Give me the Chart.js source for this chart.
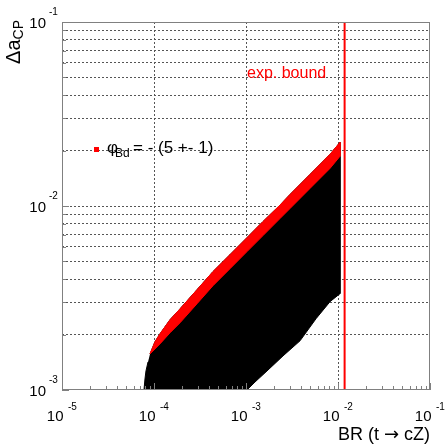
<!DOCTYPE html>
<html>
<head>
<meta charset="utf-8">
<script src="https://cdn.jsdelivr.net/npm/chart.js@4"></script>
<style>
  html, body { margin: 0; padding: 0; background: #fff; }
  #wrap { width: 447px; height: 446px; position: relative; }
</style>
</head>
<body>
<div id="wrap"><canvas id="myChart"></canvas></div>
<script>
const ctx = document.getElementById("myChart").getContext("2d");

// axis decades (powers of ten), also used as the exponent labels
const xDecades = [-5, -4, -3, -2, -1];
const yDecades = [-3, -2, -1];

// upper edge of the allowed region (top of the red band), left to right
const edgeX = [9.05e-5, 1.025e-4, 1.162e-4, 1.493e-4, 1.917e-4, 2.934e-4, 4.378e-4, 6.70e-4, 1.025e-3, 1.530e-3, 2.342e-3, 3.009e-3, 4.963e-3, 8.185e-3, 1.051e-2];
const edgeY = [1.571e-3, 1.83e-3, 2.02e-3, 2.41e-3, 2.76e-3, 3.51e-3, 4.40e-3, 5.44e-3, 6.73e-3, 8.23e-3, 1.012e-2, 1.155e-2, 1.485e-2, 1.908e-2, 2.218e-2];

// lower edge of the red band (phi_Bd = -(5 +- 1))
const bandX = [9.05e-5, 1.162e-4, 1.493e-4, 1.917e-4, 2.934e-4, 4.378e-4, 6.70e-4, 1.025e-3, 1.530e-3, 2.342e-3, 3.009e-3, 4.963e-3, 8.185e-3, 1.051e-2];
const bandY = [1.571e-3, 1.781e-3, 2.045e-3, 2.318e-3, 2.942e-3, 3.688e-3, 4.564e-3, 5.65e-3, 6.905e-3, 8.55e-3, 9.69e-3, 1.246e-2, 1.601e-2, 1.862e-2];

// rest of the black scan region, from the right end down and round to the left
const hullX = [1.051e-2, 8.185e-3, 5.768e-3, 3.864e-3, 2.525e-3, 1.692e-3, 1.253e-3, 1.025e-3, 7.78e-5, 7.98e-5, 8.18e-5, 8.61e-5];
const hullY = [3.34e-3, 3.02e-3, 2.44e-3, 1.85e-3, 1.532e-3, 1.269e-3, 1.105e-3, 1.0e-3, 1.0e-3, 1.148e-3, 1.269e-3, 1.421e-3];

// experimental bound on BR(t -> cZ)
const boundBR = 0.0118;

const FONT = "'Liberation Sans', Arial, Helvetica, sans-serif";

const pts = (xs, ys) => xs.map((v, i) => ({ x: v, y: ys[i] }));
const blackRegion = [...pts(edgeX, edgeY), ...pts(hullX, hullY)];
const redBand = [...pts(edgeX, edgeY), ...pts(bandX, bandY).reverse()];

function logTicks(decades) {
  let out = [];
  decades.forEach((d, i) => {
    if (i === decades.length - 1) {
      out.push({ value: Math.pow(10, d), major: true });
      return;
    }
    for (let m = 1; m <= 9; m++) {
      out.push({ value: m * Math.pow(10, d), major: m === 1 });
    }
  });
  return out;
}

const inside = (v, lo, hi) => v > lo * 1.0001 && v < hi * 0.9999;

// frame, inward ticks, 10^n labels, titles, legend
const decorations = {
  id: "decorations",
  afterDraw(chart) {
    const c = chart.ctx;
    const a = chart.chartArea;
    const xs = chart.scales.x, ys = chart.scales.y;
    c.save();

    c.strokeStyle = "#808080";
    c.lineWidth = 1;
    c.strokeRect(a.left + 0.5, a.top + 0.5, a.right - a.left - 1, a.bottom - a.top - 1);

    // ticks
    c.beginPath();
    logTicks(xDecades).forEach(t => {
      let px = Math.round(xs.getPixelForValue(t.value)) + 0.5;
      let len = t.major ? 7 : 4;
      c.moveTo(px, a.bottom);
      c.lineTo(px, a.bottom - len);
    });
    logTicks(yDecades).forEach(t => {
      let py = Math.round(ys.getPixelForValue(t.value)) + 0.5;
      let len = t.major ? 7 : 4;
      c.moveTo(a.left, py);
      c.lineTo(a.left + len, py);
    });
    c.stroke();

    // tick labels
    c.fillStyle = "#000";
    c.textBaseline = "alphabetic";
    xDecades.forEach(d => {
      let px = xs.getPixelForValue(Math.pow(10, d));
      c.font = "15px " + FONT;
      c.textAlign = "right";
      c.fillText("10", px + 1.5, a.bottom + 31);
      c.font = "10px " + FONT;
      c.textAlign = "left";
      c.fillText(String(d), px + 6, a.bottom + 20);
    });
    yDecades.forEach(d => {
      let py = ys.getPixelForValue(Math.pow(10, d));
      c.font = "15px " + FONT;
      c.textAlign = "right";
      c.fillText("10", 46, py + 6);
      c.font = "10px " + FONT;
      c.textAlign = "left";
      c.fillText(String(d), 49, py - 7);
    });

    // x title, arrow from DejaVu for a longer shaft
    c.textAlign = "left";
    c.font = "18px " + FONT;
    let p1 = "BR (t ", p3 = " cZ)";
    let w1 = c.measureText(p1).width, w3 = c.measureText(p3).width;
    c.font = "18px 'DejaVu Sans', sans-serif";
    let w2 = c.measureText("\u2192").width;
    let x0 = a.right - (w1 + w2 + w3);
    c.font = "18px " + FONT;
    c.fillText(p1, x0, 440);
    c.fillText(p3, x0 + w1 + w2, 440);
    c.font = "18px 'DejaVu Sans', sans-serif";
    c.fillText("\u2192", x0 + w1, 440);

    // y title, rotated
    c.save();
    c.translate(20, 20);
    c.rotate(-Math.PI / 2);
    c.font = "14px " + FONT;
    let wSub = c.measureText("CP").width;
    c.font = "20px " + FONT;
    let wMain = c.measureText("\u0394a").width;
    c.textAlign = "left";
    c.fillText("\u0394a", -(wMain + wSub), 0);
    c.font = "14px " + FONT;
    c.fillText("CP", -wSub, 3);
    c.restore();

    // exp. bound label
    c.fillStyle = "#ff0000";
    c.font = "16px " + FONT;
    c.textAlign = "left";
    c.fillText("exp. bound", 247, 78);

    // legend
    c.fillRect(94, 147, 5, 5);
    c.fillStyle = "#000";
    c.font = "17px " + FONT;
    c.fillText("\u03c6", 107, 153);
    c.font = "12px " + FONT;
    c.fillText("Bd", 115, 157);
    c.font = "17px " + FONT;
    c.fillText("= - (5 +- 1)", 133, 153);

    c.restore();
  }
};

const data = {
  datasets: [
    {
      label: "exp. bound",
      data: [{ x: boundBR, y: 1e-3 }, { x: boundBR, y: 1e-1 }],
      showLine: true,
      borderColor: "#ff0000",
      borderWidth: 2,
      pointRadius: 0,
      order: 0
    },
    {
      label: "phi_Bd",
      data: redBand,
      showLine: true,
      fill: "shape",
      backgroundColor: "#ff0000",
      borderColor: "#ff0000",
      borderWidth: 1,
      pointRadius: 0,
      order: 1
    },
    {
      label: "scan",
      data: blackRegion,
      showLine: true,
      fill: "shape",
      backgroundColor: "#000000",
      borderColor: "#000000",
      borderWidth: 1,
      pointRadius: 0,
      order: 2
    }
  ]
};

const gridColor = (lo, hi, majorOnly) => (context) => {
  const t = context.tick;
  if (!t || !inside(t.value, lo, hi)) return "rgba(0,0,0,0)";
  if (majorOnly && !t.major) return "rgba(0,0,0,0)";
  return "#555555";
};

const config = {
  type: "scatter",
  data: data,
  options: {
    responsive: true,
    maintainAspectRatio: false,
    animation: false,
    devicePixelRatio: 1,
    layout: { padding: { left: 62, top: 22, right: 17, bottom: 56 } },
    plugins: {
      legend: { display: false },
      tooltip: { enabled: false }
    },
    scales: {
      x: {
        type: "logarithmic",
        min: 1e-5,
        max: 1e-1,
        afterBuildTicks: (s) => { s.ticks = logTicks(xDecades); },
        ticks: { display: false },
        grid: { drawTicks: false, lineWidth: 1, color: gridColor(1e-5, 1e-1, true) },
        border: { display: false, dash: [2, 2] }
      },
      y: {
        type: "logarithmic",
        min: 1e-3,
        max: 1e-1,
        afterBuildTicks: (s) => { s.ticks = logTicks(yDecades); },
        ticks: { display: false },
        grid: { drawTicks: false, lineWidth: 1, color: gridColor(1e-3, 1e-1, false) },
        border: { display: false, dash: [2, 2] }
      }
    }
  },
  plugins: [decorations]
};

const myChart = new Chart(ctx, config);
</script>
</body>
</html>
